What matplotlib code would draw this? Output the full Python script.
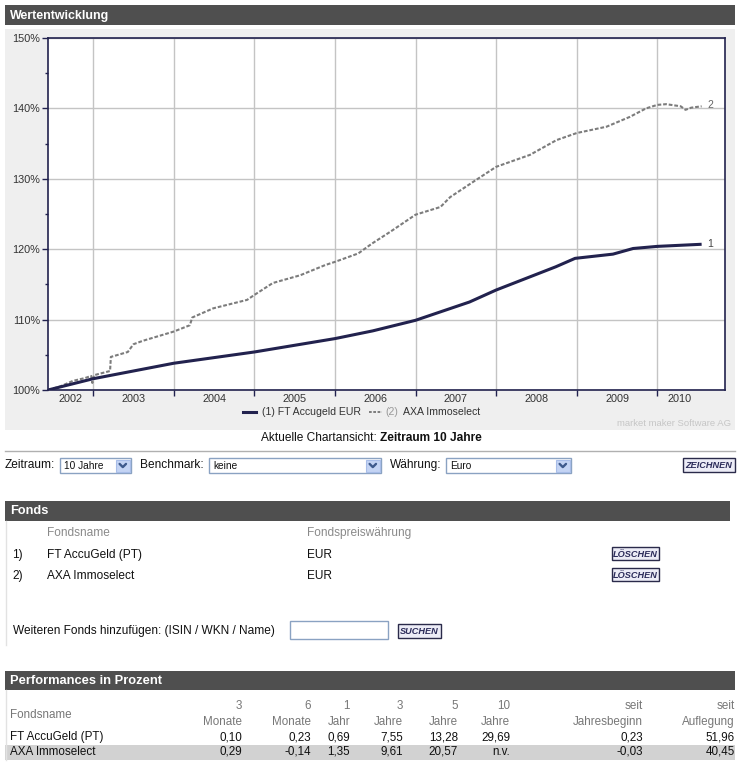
import matplotlib
matplotlib.use('Agg')
import matplotlib.pyplot as plt
from matplotlib.patches import Rectangle
from matplotlib.ticker import FixedLocator, NullFormatter, FixedFormatter

# ---------------- data ----------------
t1 = [2002.44, 2003.0, 2004.0, 2005.0, 2006.0, 2006.47, 2007.0, 2007.67, 2008.0,
      2008.74, 2008.98, 2009.45, 2009.7, 2010.0, 2010.55]
v1 = [100.0, 101.6, 103.8, 105.4, 107.3, 108.4, 109.9, 112.5, 114.2,
      117.5, 118.7, 119.3, 120.1, 120.4, 120.7]

t2 = [2002.44, 2002.59, 2002.75, 2002.90, 2002.975, 2002.99, 2003.01, 2003.21, 2003.22,
      2003.43, 2003.50, 2003.62, 2004.0, 2004.20, 2004.23, 2004.49, 2004.91, 2005.0,
      2005.23, 2005.57, 2005.88, 2006.0, 2006.29, 2006.46, 2006.69, 2007.0, 2007.31,
      2007.43, 2007.72, 2008.0, 2008.42, 2008.75, 2009.0, 2009.37, 2009.66, 2009.86,
      2010.0, 2010.11, 2010.29, 2010.35, 2010.42, 2010.55]
v2 = [100.0, 100.5, 101.3, 101.7, 102.0, 101.0, 102.1, 102.7, 104.7,
      105.4, 106.5, 107.0, 108.3, 109.2, 110.3, 111.6, 112.8, 113.5,
      115.2, 116.3, 117.75, 118.2, 119.4, 120.8, 122.5, 124.9, 126.0,
      127.4, 129.6, 131.7, 133.4, 135.5, 136.5, 137.4, 138.8, 140.0,
      140.5, 140.6, 140.3, 139.8, 140.1, 140.3]

series_names = ["FT Accugeld EUR", "AXA Immoselect"]
years = [2002, 2003, 2004, 2005, 2006, 2007, 2008, 2009, 2010]
y_ticks = [100, 110, 120, 130, 140, 150]
y_ticklabels = ["100%", "110%", "120%", "130%", "140%", "150%"]

funds = ["FT AccuGeld (PT)", "AXA Immoselect"]
fund_ccy = ["EUR", "EUR"]
perf_cols_top = ["3", "6", "1", "3", "5", "10", "seit", "seit"]
perf_cols_bot = ["Monate", "Monate", "Jahr", "Jahre", "Jahre", "Jahre", "Jahresbeginn", "Auflegung"]
perf_ft = ["0,10", "0,23", "0,69", "7,55", "13,28", "29,69", "0,23", "51,96"]
perf_axa = ["0,29", "-0,14", "1,35", "9,61", "20,57", "n.v.", "-0,03", "40,45"]

# ---------------- style ----------------
W, H = 746, 768
FONT = ['Liberation Sans', 'DejaVu Sans']
NARROW = ['Liberation Sans Narrow', 'Liberation Sans', 'DejaVu Sans']
plt.rcParams['font.family'] = FONT
NAVY = '#22224e'
GREY2 = '#7c7c7c'
HDR = '#4f4f4f'

fig = plt.figure(figsize=(W / 100, H / 100), dpi=100)
fig.patch.set_facecolor('white')
bg = fig.add_axes([0, 0, 1, 1])
bg.set_xlim(0, W)
bg.set_ylim(H, 0)
bg.axis('off')


def rect(x0, y0, x1, y1, fc, ec='none', lw=0, z=1):
    bg.add_patch(Rectangle((x0, y0), x1 - x0, y1 - y0, facecolor=fc,
                           edgecolor=ec, linewidth=lw, zorder=z))


def txt(x, y, s, **kw):
    kw.setdefault('va', 'center')
    kw.setdefault('zorder', 5)
    bg.text(x, y, s, **kw)


def header(y0, y1, label, x1=735, family=FONT, size=8.9):
    rect(5, y0, x1, y1, HDR)
    txt(10, (y0 + y1) / 2 + 0.5, label, color='white', fontsize=size,
        fontweight='bold', family=family)


def button(x0, y0, x1, y1, label):
    rect(x0, y0, x1, y1, '#ececf6', '#2a2a4a', 1.0, z=3)
    txt((x0 + x1) / 2, (y0 + y1) / 2 + 0.6, label, ha='center', fontsize=6.6,
        fontweight='bold', fontstyle='italic', color='#2c2c5a', family=NARROW)


def dropdown(x0, x1, y0, y1, label):
    rect(x0, y0, x1, y1, 'white', '#8aa2c2', 1.0, z=3)
    rect(x1 - 15, y0 + 1.5, x1 - 1.5, y1 - 1.5, '#c4d4f4', '#a8bde8', 0.8, z=4)
    cx, cy = x1 - 8.2, (y0 + y1) / 2
    bg.plot([cx - 3.2, cx, cx + 3.2], [cy - 1.6, cy + 1.6, cy - 1.6],
            color='#3e5a8c', lw=1.7, zorder=5, solid_capstyle='round')
    txt(x0 + 4, cy + 0.3, label, fontsize=7.3, color='#111')


# ---------------- chart panel ----------------
header(5, 25, "Wertentwicklung")
rect(5, 28.5, 735, 430, '#efefef')

ax = fig.add_axes([48 / W, 1 - 390 / H, (725 - 48) / W, (390 - 38) / H], zorder=2)
ax.set_facecolor('white')
xmin, xmax = 2002.44, 2010.84
ax.set_xlim(xmin, xmax)
ax.set_ylim(100, 150)

ax.plot(t2, v2, color=GREY2, lw=1.5, linestyle=(0, (1.8, 0.9)), zorder=3)
ax.plot(t1, v1, color=NAVY, lw=2.2, solid_capstyle='butt', zorder=4)
ax.annotate('1', (t1[-1], v1[-1]), xytext=(4, 0), textcoords='offset points',
            va='center', ha='left', fontsize=7.5, color='#444')
ax.annotate('2', (t2[-1], v2[-1]), xytext=(4, 1), textcoords='offset points',
            va='center', ha='left', fontsize=7.5, color='#666')

ax.yaxis.set_major_locator(FixedLocator(y_ticks))
ax.yaxis.set_major_formatter(FixedFormatter(y_ticklabels))
ax.yaxis.set_minor_locator(FixedLocator([v + 5 for v in y_ticks[:-1]]))
ax.tick_params(axis='y', which='major', length=4, width=1, color=NAVY, pad=1.5,
               labelsize=7.8, labelcolor='#333')
ax.tick_params(axis='y', which='minor', length=2.5, width=1, color=NAVY)

ax.xaxis.set_major_locator(FixedLocator(years[1:]))
ax.xaxis.set_major_formatter(NullFormatter())
last = max(t1[-1], t2[-1])
label_pos = [(max(y, xmin) + min(y + 1, last)) / 2 for y in years]
ax.xaxis.set_minor_locator(FixedLocator(label_pos))
ax.xaxis.set_minor_formatter(FixedFormatter([str(y) for y in years]))
ax.tick_params(axis='x', which='major', length=4, width=1, color=NAVY)
ax.tick_params(axis='x', which='minor', length=0, pad=3, labelsize=7.8, labelcolor='#333')

ax.grid(True, which='major', color='#c4c4c4', lw=1.0, zorder=0)
ax.set_axisbelow(True)
for s in ax.spines.values():
    s.set_color(NAVY)
    s.set_linewidth(1.2)

# legend (manual, below chart)
ly = 412
bg.plot([243, 256], [ly, ly], color=NAVY, lw=2.2, zorder=5)
txt(262, ly, "(1) " + series_names[0], fontsize=7.6, color='#333')
bg.plot([369, 382], [ly, ly], color=GREY2, lw=1.4, linestyle=(0, (1.4, 0.8)), zorder=5)
txt(385, ly, "(2)", fontsize=7.6, color='#999')
txt(403, ly, series_names[1], fontsize=7.6, color='#333')
txt(731, 423, "market maker Software AG", ha='right', fontsize=6.8, color='#c6c6c6')

# caption
txt(380, 438, "Aktuelle Chartansicht: ", ha='right', fontsize=8.6, color='#111')
txt(380, 438, "Zeitraum 10 Jahre", ha='left', fontsize=8.6, fontweight='bold', color='#111')
bg.plot([5, 735], [450.5, 450.5], color='#b0b0b0', lw=1.0, zorder=2)

# ---------------- controls ----------------
cy = 465
txt(5, cy, "Zeitraum:", fontsize=8.6, color='#111')
dropdown(60, 131, 458, 473, "10 Jahre")
txt(140, cy, "Benchmark:", fontsize=8.6, color='#111')
dropdown(209, 381, 458, 473, "keine")
txt(390, cy, "Währung:", fontsize=8.6, color='#111')
dropdown(446, 571, 458, 473, "Euro")
button(683, 458, 735, 472, "ZEICHNEN")

# ---------------- Fonds section ----------------
header(501, 521, "Fonds", x1=730, family=NARROW, size=9.2)
bg.plot([6, 6], [521, 645], color='#e2e2e2', lw=1.0, zorder=2)
txt(47, 533, "Fondsname", fontsize=8.6, color='#8a8a8a')
txt(307, 533, "Fondspreiswährung", fontsize=8.6, color='#8a8a8a')
for i, (name, ccy) in enumerate(zip(funds, fund_ccy)):
    yy = 555 + i * 21
    txt(12, yy, f"{i + 1})", fontsize=8.6, color='#111')
    txt(47, yy, name, fontsize=8.6, color='#111')
    txt(307, yy, ccy, fontsize=8.6, color='#111')
    button(612, yy - 8, 659, yy + 5, "LÖSCHEN")

txt(13, 631, "Weiteren Fonds hinzufügen: (ISIN / WKN / Name)", fontsize=8.6, color='#111')
rect(290, 621, 388, 639, 'white', '#8aa2c2', 1.0, z=3)
button(398, 624, 441, 638, "SUCHEN")

# ---------------- Performance table ----------------
header(671, 690, "Performances in Prozent", family=NARROW, size=9.3)
bg.plot([6, 6], [690, 760], color='#e2e2e2', lw=1.0, zorder=2)
rect(5, 745, 735, 760, '#d2d2d2', z=1)
col_right = [242, 311, 350, 403, 458, 510, 643, 735]
txt(10, 715, "Fondsname", fontsize=8.4, color='#777')
for xr, a, b in zip(col_right, perf_cols_top, perf_cols_bot):
    txt(xr, 706, a, ha='right', fontsize=8.4, color='#777')
    txt(xr, 722, b, ha='right', fontsize=8.4, color='#777')
txt(10, 737, funds[0], fontsize=8.4, color='#111')
txt(10, 752, funds[1], fontsize=8.4, color='#111')
for xr, a, b in zip(col_right, perf_ft, perf_axa):
    txt(xr, 737, a, ha='right', fontsize=8.4, color='#111')
    txt(xr, 752, b, ha='right', fontsize=8.4, color='#111')

fig.savefig('out.png', dpi=100)
